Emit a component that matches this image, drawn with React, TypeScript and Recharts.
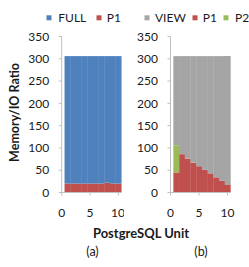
import React from 'react';
import { BarChart, Bar, XAxis, YAxis } from 'recharts';

// PostgreSQL units on the x axis
const units = [1, 2, 3, 4, 5, 6, 7, 8, 9, 10];

// panel (a)
const fullA = [286, 286, 286, 286, 286, 286, 286, 284, 286, 286];
const p1A = [20, 20, 20, 20, 20, 20, 20, 22, 20, 20];

// panel (b)
const viewB = [200, 220, 230, 239, 247, 255, 263, 272, 280, 289];
const p1B = [45, 86, 76, 67, 59, 51, 43, 34, 26, 17];
const p2B = [61, 0, 0, 0, 0, 0, 0, 0, 0, 0];

const xTicks = [0, 5, 10];
const yTicks = [0, 50, 100, 150, 200, 250, 300, 350];

const BLUE = '#4f81bd';
const RED = '#c0504d';
const GREEN = '#9bbb59';
const GRAY = '#a5a5a5';
const AXIS = '#bfbfbf';
const FONT = 'Lato, "Open Sans", sans-serif';

const dataA = units.map((u, i) => ({ unit: u, FULL: fullA[i], P1: p1A[i] }));
const dataB = units.map((u, i) => ({ unit: u, VIEW: viewB[i], P1: p1B[i], P2: p2B[i] }));

const tickStyle = { fontSize: 12, fill: '#1a1a1a', fontFamily: FONT };

type PanelProps = {
    data: object[];
    left: number;
    width: number;
    yWidth: number;
    right: number;
    children: React.ReactNode;
};

const Panel: React.FC<PanelProps> = ({ data, left, width, yWidth, right, children }) => (
    <div style={{ position: 'absolute', left, top: 0 }}>
        <BarChart
            width={width}
            height={267}
            data={data}
            margin={{ top: 36.5, right, left: 0, bottom: 44.5 }}
            barCategoryGap={0}
            barGap={0}
        >
            <XAxis
                dataKey="unit"
                type="number"
                domain={[0, 10.5]}
                ticks={xTicks}
                height={30}
                tickSize={3}
                tickMargin={12.5}
                stroke={AXIS}
                tick={tickStyle}
            />
            <YAxis
                type="number"
                domain={[0, 350]}
                ticks={yTicks}
                width={yWidth}
                tickSize={3}
                tickMargin={9.5}
                stroke={AXIS}
                tick={tickStyle}
            />
            {children}
        </BarChart>
    </div>
);

const legendA = [
    { name: 'FULL', color: BLUE, box: 46.5, text: 58.3 },
    { name: 'P1', color: RED, box: 96.5, text: 106.7 },
];

const legendB = [
    { name: 'VIEW', color: GRAY, box: 144.5, text: 155 },
    { name: 'P1', color: RED, box: 192.5, text: 202.7 },
    { name: 'P2', color: GREEN, box: 223.5, text: 235 },
];

const App: React.FC = () => (
    <div style={{ position: 'absolute', left: 0, top: 0, width: 249, height: 267, background: '#fff', overflow: 'hidden' }}>
        <Panel data={dataA} left={0} width={124} yWidth={61.7} right={2.8}>
            <Bar dataKey="P1" stackId="s" fill={RED} isAnimationActive={false} />
            <Bar dataKey="FULL" stackId="s" fill={BLUE} isAnimationActive={false} />
        </Panel>
        <Panel data={dataB} left={124} width={125} yWidth={46.5} right={18.6}>
            <Bar dataKey="P1" stackId="s" fill={RED} isAnimationActive={false} />
            <Bar dataKey="P2" stackId="s" fill={GREEN} isAnimationActive={false} />
            <Bar dataKey="VIEW" stackId="s" fill={GRAY} isAnimationActive={false} />
        </Panel>
        <svg width={249} height={267} style={{ position: 'absolute', left: 0, top: 0, pointerEvents: 'none' }} fontFamily={FONT}>
            {[...legendA, ...legendB].map((it, i) => (
                <g key={i}>
                    <rect x={it.box} y={15.3} width={5} height={5} fill={it.color} />
                    <text x={it.text} y={17.5} fontSize={12} fill="#1a1a1a" dominantBaseline="central">
                        {it.name}
                    </text>
                </g>
            ))}
            <text
                transform="translate(14.5,112.5) rotate(-90)"
                textAnchor="middle"
                dominantBaseline="central"
                fontSize={12.5}
                fontWeight="bold"
                fill="#1a1a1a"
            >
                Memory/IO Ratio
            </text>
            <text x={141} y={232.7} textAnchor="middle" dominantBaseline="central" fontSize={13} fontWeight="bold" fill="#1a1a1a">
                PostgreSQL Unit
            </text>
            <text x={92.5} y={251.7} textAnchor="middle" dominantBaseline="central" fontSize={12.5} fill="#1a1a1a">
                (a)
            </text>
            <text x={201} y={251.7} textAnchor="middle" dominantBaseline="central" fontSize={12.5} fill="#1a1a1a">
                (b)
            </text>
        </svg>
    </div>
);

export default App;
